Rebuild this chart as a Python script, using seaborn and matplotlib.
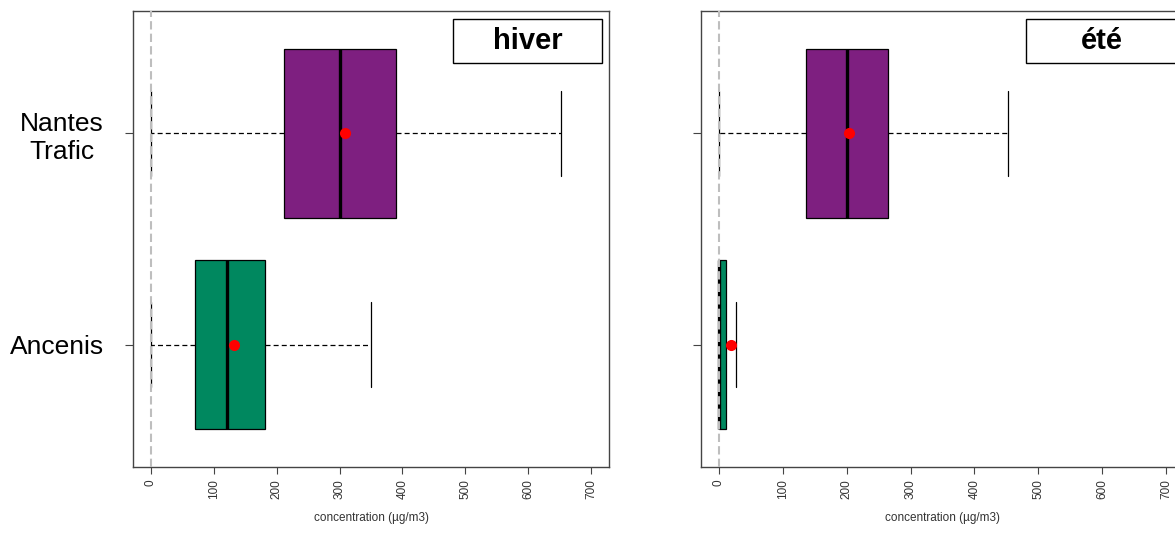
import pandas as pd
import numpy as np
import matplotlib
matplotlib.use("Agg")
import matplotlib.pyplot as plt
import seaborn as sns
from matplotlib.patches import Rectangle

# DATA (five-number summaries + means)

sites = ["Nantes\nTrafic", "Ancenis"]
site_colors = ["#7E1F80", "#00885F"]

hiver_min = [0, 0]
hiver_q1 = [212, 71]
hiver_med = [301, 122]
hiver_q3 = [390, 182]
hiver_max = [652, 350]
hiver_mean = [309, 133]

ete_min = [0, 0]
ete_q1 = [137, 0]
ete_med = [201, 0.5]
ete_q3 = [264, 10.5]
ete_max = [453, 26]
ete_mean = [203, 19]

x_ticks = [0, 100, 200, 300, 400, 500, 600, 700]
x_label = "concentration (µg/m3)"


def summary_frame(mins, q1s, meds, q3s, maxs):
    rows = []
    for i, site in enumerate(sites):
        for v in [mins[i], q1s[i], meds[i], q3s[i], maxs[i]]:
            rows.append({"site": site, "value": v})
    return pd.DataFrame(rows)


hiver = summary_frame(hiver_min, hiver_q1, hiver_med, hiver_q3, hiver_max)
ete = summary_frame(ete_min, ete_q1, ete_med, ete_q3, ete_max)

# STYLE

sns.set_style("white")
plt.rcParams["font.family"] = ["Liberation Sans", "DejaVu Sans"]
plt.rcParams["text.color"] = "black"
plt.rcParams["axes.labelcolor"] = "#333333"

fig = plt.figure(figsize=(11.75, 5.37), dpi=100)
ax1 = fig.add_axes([0.1132, 0.1304, 0.4051, 0.8492])
ax2 = fig.add_axes([0.5966, 0.1304, 0.4111, 0.8492])

panels = [
    (ax1, hiver, hiver_mean, "hiver"),
    (ax2, ete, ete_mean, "été"),
]

for ax, df, means, title in panels:
    sns.boxplot(
        data=df, x="value", y="site", hue="site", order=sites, hue_order=sites,
        palette=site_colors, saturation=1, legend=False, width=0.8,
        whis=(0, 100), linecolor="black", linewidth=0.9, ax=ax,
        medianprops={"linewidth": 2.4},
        whiskerprops={"linestyle": (0, (4, 2.5))},
    )
    ax.axvline(0, color="#BEBEBE", linestyle=(0, (4, 2)), linewidth=1.5, zorder=4)
    sns.stripplot(
        x=means, y=sites, order=sites, jitter=False, color="red",
        size=8, linewidth=0, ax=ax, zorder=6,
    )

    ax.set_xlim(-28, 728)
    ax.set_ylim(1.58, -0.58)
    ax.set_xticks(x_ticks)
    ax.set_xticklabels([str(t) for t in x_ticks], rotation=90, fontsize=8.5, color="#333333")
    ax.set_xlabel(x_label, fontsize=8.5, labelpad=9)
    ax.set_ylabel("")
    ax.tick_params(axis="x", direction="out", length=5, width=0.8, color="#444444", pad=4, bottom=True)
    ax.tick_params(axis="y", direction="out", length=6, width=0.8, color="#444444", left=True)
    for sp in ax.spines.values():
        sp.set_visible(True)
        sp.set_color("#444444")
        sp.set_linewidth(1)

    # title box in the top right corner
    ax.add_patch(Rectangle((0.673, 0.886), 0.312, 0.096, transform=ax.transAxes,
                           facecolor="white", edgecolor="black", linewidth=1, zorder=7))
    ax.text(0.829, 0.934, title, transform=ax.transAxes, ha="center", va="center",
            fontsize=21, fontweight="bold", color="black", zorder=8)

ax1.tick_params(axis="y", labelsize=19, pad=15, labelcolor="black")
for t in ax1.get_yticklabels():
    t.set_multialignment("center")
ax2.tick_params(axis="y", labelleft=False)

plt.savefig("out.png", dpi=100)
